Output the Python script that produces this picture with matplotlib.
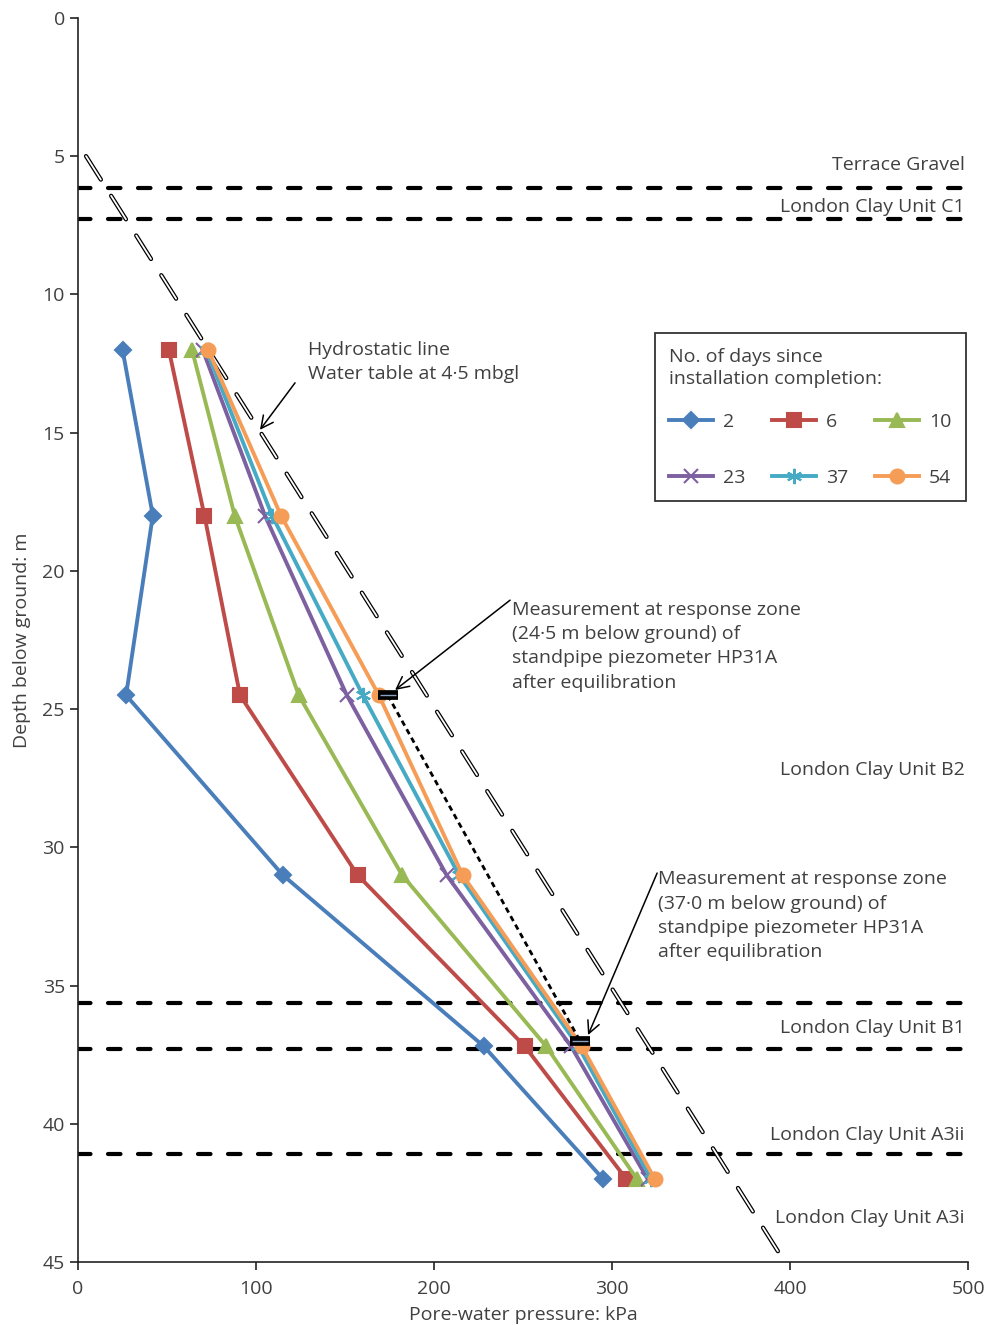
import numpy as np
import matplotlib
matplotlib.use('Agg')
import matplotlib.pyplot as plt

plt.rcParams['font.family'] = ['Open Sans', 'DejaVu Sans']
plt.rcParams['lines.scale_dashes'] = False

txt = '#404040'
fs = 14

# depths of the piezometer readings (m below ground)
depth = [12, 18, 24.5, 31, 37.2, 42]

# pore-water pressures (kPa) for each no. of days since installation
p_2 = [25, 42, 27, 115, 228, 295]
p_6 = [51, 71, 91, 157, 251, 308]
p_10 = [64, 88, 124, 182, 263, 314]
p_23 = [70, 105, 151, 207, 277, 320]
p_37 = [72, 109, 160, 214, 281, 322]
p_54 = [73, 114, 169, 216, 283, 324]

days = ['2', '6', '10', '23', '37', '54']
colors = ['#4A7EBB', '#BE4B48', '#98B954', '#7D60A0', '#46AAC5', '#F59D56']
markers = ['D', 's', '^', 'x', (6, 2, 0), 'o']
msizes = [8, 10, 10, 10, 11, 10]

# standpipe HP31A after equilibration
hp_depth = [24.5, 37.0]
hp_press = [174, 282]

# hydrostatic line, water table at 4.5 mbgl
hyd_depth = [5, 45]
hyd_press = [4.5, 397]

# layer boundaries and labels
bounds = [6.15, 7.27, 35.64, 37.3, 41.1]
layer_names = ['Terrace Gravel', 'London Clay Unit C1', 'London Clay Unit B2',
               'London Clay Unit B1', 'London Clay Unit A3ii', 'London Clay Unit A3i']
layer_y = [5.33, 6.83, 27.2, 36.55, 40.4, 43.4]

fig = plt.figure(figsize=(9.89, 13.25), dpi=100)
ax = fig.add_axes([0.0789, 0.0475, 0.9, 0.939])

for b in bounds:
    ax.axhline(b, color='black', lw=3, dashes=(9, 12.6), dash_capstyle='round')

for name, yy in zip(layer_names, layer_y):
    ax.text(498, yy, name, ha='right', va='center', fontsize=fs, color=txt)

# hollow dashed hydrostatic line
ax.plot(hyd_press, hyd_depth, color='black', lw=3.1, dashes=(20, 13.8),
        dash_capstyle='round', zorder=3)
ax.plot(hyd_press, hyd_depth, color='white', lw=1.3, dashes=(20, 13.8),
        dash_capstyle='round', zorder=3)

series = [p_2, p_6, p_10, p_23, p_37, p_54]
handles = []
for vals, lab, c, m, ms in zip(series, days, colors, markers, msizes):
    h, = ax.plot(vals, depth, color=c, lw=2.8, marker=m, ms=ms, mew=1.5,
                 mec=c, mfc=c, label=lab, zorder=4)
    handles.append(h)

ax.plot(hp_press, hp_depth, color='black', lw=2, dashes=(4, 3), zorder=5)
ax.plot(hp_press, hp_depth, ls='none', marker='_', ms=15, mew=7, color='black', zorder=6)
ax.plot(hp_press, hp_depth, ls='none', marker='_', ms=11, mew=1, color='#8aa0c0', zorder=7)

# annotations
arrow = dict(arrowstyle='->', color='black', lw=1.1, mutation_scale=22,
             shrinkA=0, shrinkB=0)
ax.annotate('', xy=(102.2, 14.9), xytext=(121.9, 13.2), arrowprops=arrow)
ax.annotate('', xy=(178.1, 24.31), xytext=(242.7, 21.06), arrowprops=arrow)
ax.annotate('', xy=(286.5, 36.79), xytext=(325.3, 30.93), arrowprops=arrow)

ax.text(129, 12.45, 'Hydrostatic line\nWater table at 4·5 mbgl', fontsize=fs,
        color=txt, va='center', linespacing=1.45)
ax.text(244, 22.72, 'Measurement at response zone\n(24·5 m below ground) of\n'
        'standpipe piezometer HP31A\nafter equilibration', fontsize=fs,
        color=txt, va='center', linespacing=1.45)
ax.text(326, 32.48, 'Measurement at response zone\n(37·0 m below ground) of\n'
        'standpipe piezometer HP31A\nafter equilibration', fontsize=fs,
        color=txt, va='center', linespacing=1.45)

ax.set_xlim(0, 500)
ax.set_ylim(45, 0)
ax.set_xticks(np.arange(0, 501, 100))
ax.set_yticks(np.arange(0, 46, 5))
ax.spines['top'].set_visible(False)
ax.spines['right'].set_visible(False)
for s in ['left', 'bottom']:
    ax.spines[s].set_linewidth(1.2)
    ax.spines[s].set_color('#222222')
ax.tick_params(direction='out', length=6, width=1.2, labelsize=fs,
               labelcolor=txt, color='#222222')
ax.tick_params(axis='x', pad=7)
ax.set_xlabel('Pore-water pressure: kPa', fontsize=fs, color=txt, labelpad=6)
ax.set_ylabel('Depth below ground: m', fontsize=fs, color=txt, labelpad=8)

order = [0, 3, 1, 4, 2, 5]
leg = fig.legend([handles[i] for i in order], [days[i] for i in order],
                 ncol=3, loc='upper left', bbox_to_anchor=(0.662, 0.7487),
                 borderaxespad=0,
                 title='No. of days since\ninstallation completion:',
                 title_fontsize=fs, fontsize=fs, frameon=True,
                 fancybox=False, edgecolor='black', handlelength=2.25,
                 columnspacing=1.4, labelspacing=1.95, borderpad=0.75,
                 handletextpad=0.5, alignment='left')
leg._legend_box.sep = 1.95 * fs - 9.4  # tighter gap under the title
leg.get_frame().set_linewidth(1.3)
leg.get_title().set_color(txt)
leg.get_title().set_linespacing(1.3)
for t in leg.get_texts():
    t.set_color(txt)

fig.savefig('out.png', dpi=100)
